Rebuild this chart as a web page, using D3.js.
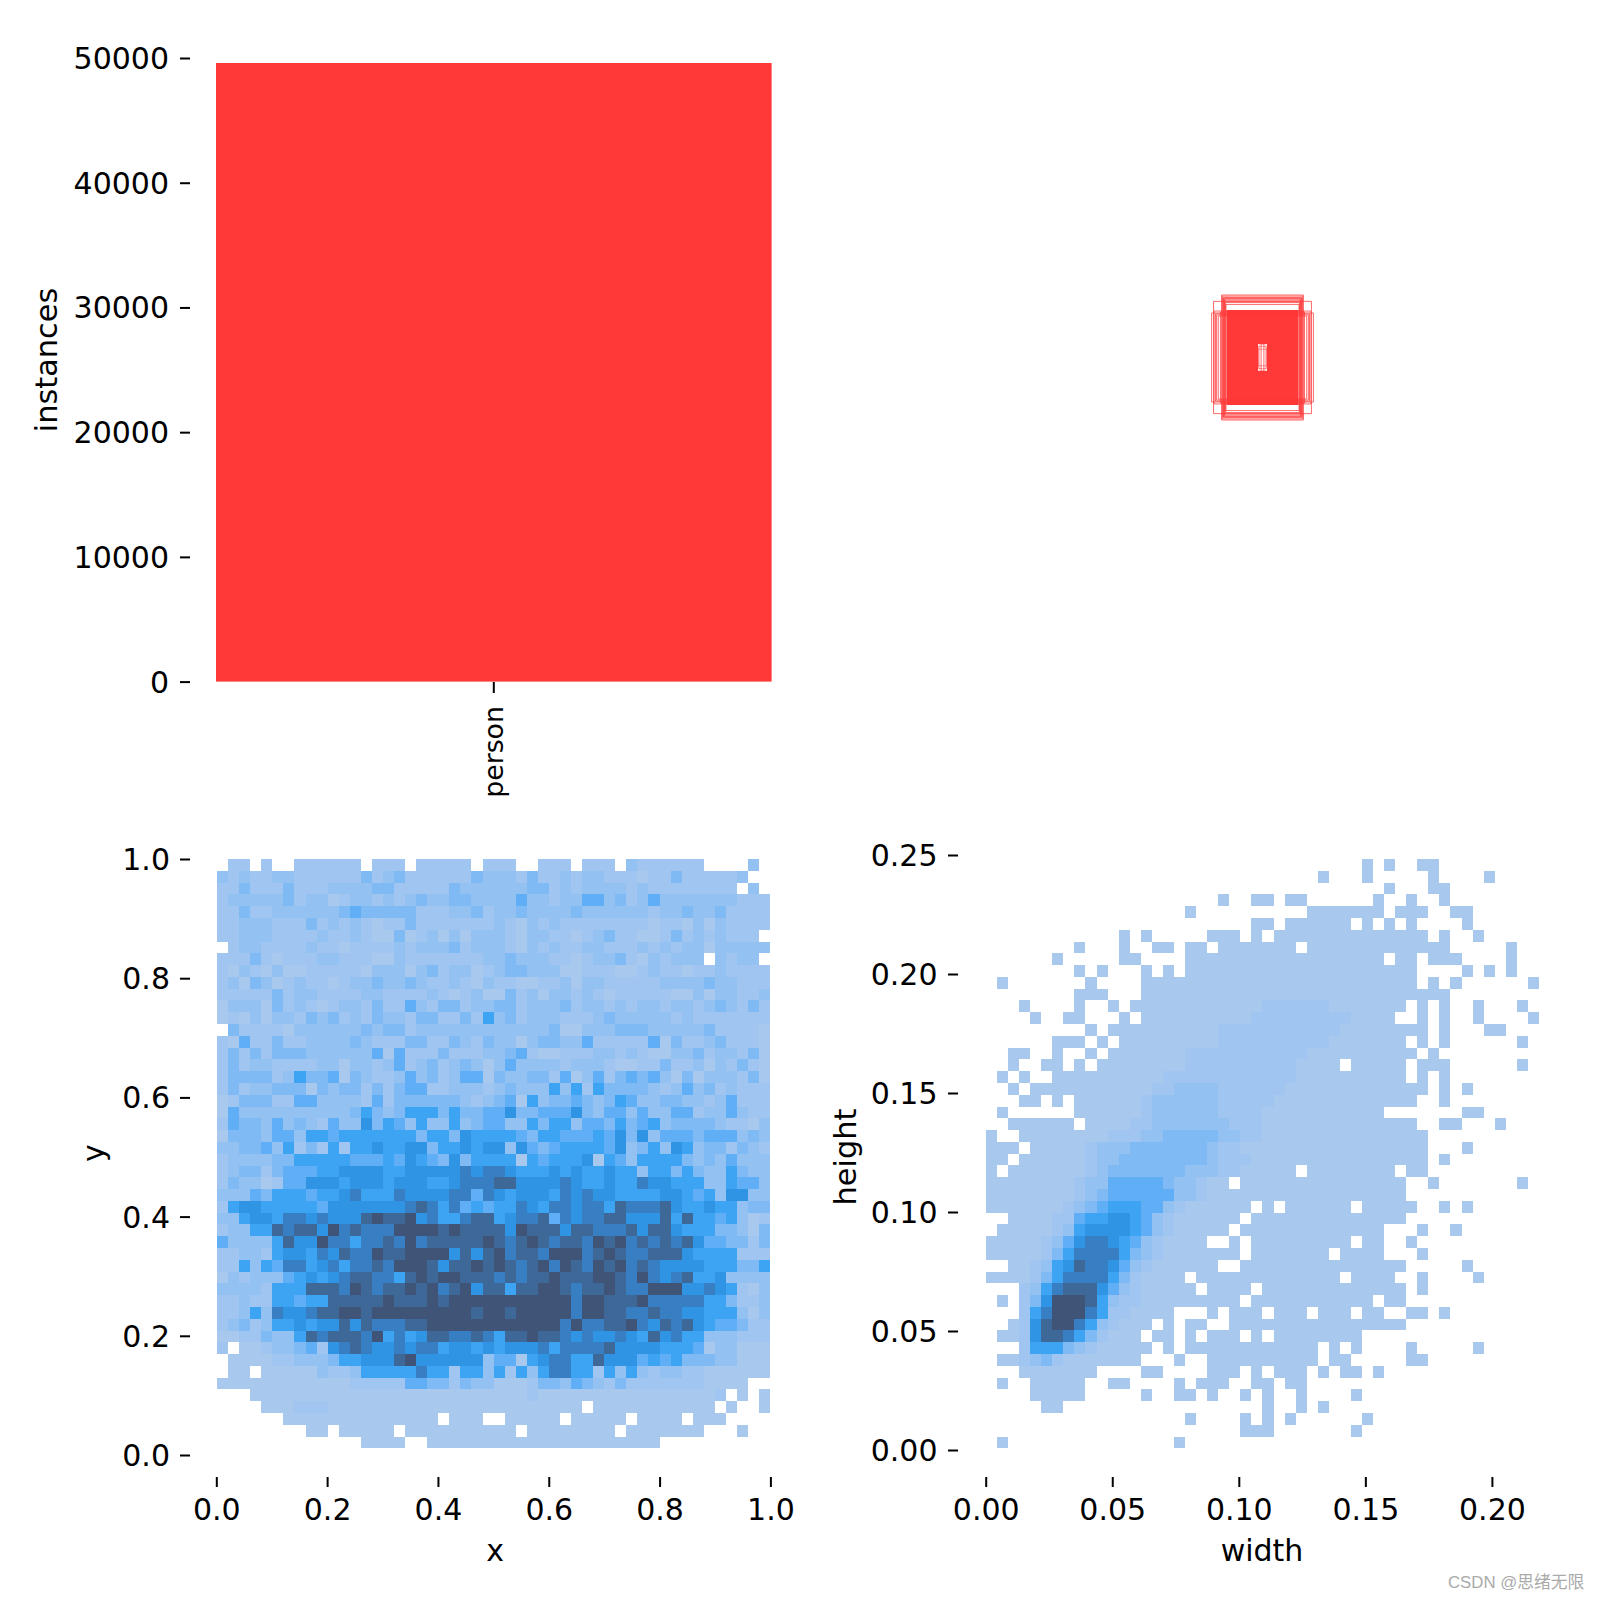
<!DOCTYPE html>
<html><head><meta charset="utf-8">
<script src="https://cdn.jsdelivr.net/npm/d3@7/dist/d3.min.js"></script>
<style>
html,body{margin:0;padding:0;background:#fff}
svg{display:block}
text{font-family:"DejaVu Sans",sans-serif;fill:#000}
.tick line{stroke:#000;stroke-width:2}
</style></head><body>
<svg id="c" width="1600" height="1600"></svg>
<script>
// ---- data ----
const classNames = ["person"];
const classCounts = [49600];
const countTicks = [0,10000,20000,30000,40000,50000];
const xyTicks = [0,0.2,0.4,0.6,0.8,1.0];
const xyTickLabels = ["0.0","0.2","0.4","0.6","0.8","1.0"];
const wTicks = [0,0.05,0.10,0.15,0.20];
const hTicks = [0,0.05,0.10,0.15,0.20,0.25];
const wLabels = ["0.00","0.05","0.10","0.15","0.20"];
const hLabels = ["0.00","0.05","0.10","0.15","0.20","0.25"];
const xyBinRange = {x:[0.0013,0.9995], y:[0.011,1.0]};
const whBinRange = {x:[0.0001,0.2186], y:[0.0007,0.2483]};
// box outlines, width / height normalised to the image
const boxW = [.184,.177,.166,.148,.141,.137,.136,.134,.132,.175,.170,.145,.139,.143,.152,.160];
const boxH = [.161,.203,.154,.226,.217,.212,.204,.199,.192,.168,.158,.222,.208,.214,.165,.150];
const boxSolid = {outer:[.130,.172], hole:[.016,.049]};
const holeW = [.004,.009,.014,.016];
const holeH = [.049,.049,.040,.030];
// x-y histogram: level per bin, top row first ('.' is an empty bin, 'a' the highest level)
const xyRows = [
".22.2 ..222 222.2 22.22 222.2 22..2 22.22 2.322 2222. ...3.",
"32322 33222 22242 34222 22243 33242 23233 22212 24222 223..",
"22422 24222 33334 42222 24333 33344 23233 33232 22222 22.3.",
"23333 34233 12332 32343 34433 33533 23355 34235 33333 33222",
"22422 33333 34544 44422 23342 33433 33433 33332 33433 42222",
"22333 22242 32321 22422 22222 32132 32222 22221 22131 32222",
"22333 22223 22321 14123 13133 32133 22123 42211 24232 3222.",
".2332 22232 21222 23233 34233 32132 32233 22232 32331 33333",
"22242 12223 32221 13222 22223 34333 22123 34213 2333. 3233.",
"21321 31122 22213 33134 23312 34433 31122 21123 22122 32222",
"23143 12322 12334 33432 23213 22112 23133 22222 33334 33222",
"22222 42332 22233 22223 21231 14231 33232 12222 21131 33223",
"13331 42321 23324 22532 44233 44233 34233 23233 23323 43242",
"12131 33243 42324 33244 22426 34233 32223 43333 32322 22222",
".4222 21333 33343 44233 33333 33333 41133 34443 33334 22221",
"21522 42233 33432 22442 24324 33134 43352 22225 14223 42221",
"24242 44433 33335 15222 42223 34521 12223 32321 13342 33241",
"24233 22223 31332 35234 23431 35333 32333 21122 42231 32421",
"24444 23644 51432 23534 23551 43344 25135 24545 31413 33241",
"24233 44414 34424 24552 23332 34333 63626 44443 23534 23222",
"12444 22553 33325 24444 44323 45163 44543 46533 44332 35222",
"15333 33333 33464 34666 46445 57445 55743 55353 35523 35322",
"25443 53432 53374 65363 36345 53364 66355 46456 34444 32213",
"14443 55366 56666 66646 64766 66546 65556 57473 55545 55343",
"33445 36242 62667 66774 66767 73754 56666 57346 37634 42432",
"23333 44666 66555 65765 47466 66165 66671 65366 66434 35333",
"23442 45556 67777 66777 77878 87666 76766 76636 64643 36433",
"24331 25577 76777 67776 67888 99777 78766 76687 76663 36553",
"33354 66656 67866 68777 78858 76777 68787 76666 77656 37733",
"26776 66665 77777 77898 68565 66876 88788 69888 97667 66344",
"33677 68878 7779a 99a78 66899 67889 58788 99777 96966 56312",
"23366 98997 a8988 8aaaa 9a999 97a99 97998 88979 97666 44314",
"53333 6977a 88688 98a89 9999a 989a9 8998a 9a898 98975 54424",
"22332 67768 79 88a 99aaa a7979 a8998 aaa89 a9889 99766 66222",
"22636 58867 86889 8aaa9 799a9 a989a 8a98a 9a898 77776 66446",
"13233 35676 78998 869a9 aa999 89899 a999a a98a8 78966 73333",
"33332 66699 98a98 99a9a 89a79 9699a a9899 a988a aa778 76213",
"22322 66566 99999 a999a 9aaaa aaaaa aa8aa 999a8 88886 64223",
"22363 87789 9aa9a aaaaa aaa9a a9aaa aa8aa 99889 88776 66313",
"23423 66767 79798 8899a aaaaa aaaaa a8a88 99a87 98976 55422",
"11224 33698 99 98a 68679 98898 699a9 98787 78769 78663 33222",
"2.112 33452 78987 78788 67767 67778 68888 97777 66651 33111",
".1111 22333 46677 79a77 77773 55167 88669 77756 56444 33111",
".11.1 11113 22366 66686 62663 62636 88662 63632 33221 11111",
"11111 11111 11222 22554 42433 11124 43543 24222 22221 111..",
"...11 11111 11111 11111 11111 11121 11111 11111 11111 2.1.1",
"....1 11222 11111 11111 11111 11111 111.1 11111 11111 .1..1",
"..... .1111 11111 11111 .111. .1111 1.111 11.11 11.11 1....",
"..... ...11 .1111 1.111 11111 11.11 11111 1.111 1111. ..1..",
"..... ..... ...11 11..1 11111 11111 11111 11111 ..... ....."
].map(s=>s.replace(/ /g,""));
// width-height histogram occupancy, top row first
const whRows = [
".......... .......... .......... ....1.1..1 1.........",
".......... .......... .......... 1...1..... 1....1....",
".......... .......... .......... ......1... 11........",
".......... .......... .1..11.11. .....1..1. .1........",
".......... ........1. .........1 111111.111 ..11......",
".......... .......... ....11.111 111.1.1.1. ...1......",
".......... ..1.1..... 111.1.1111 1111111111 .1..1.....",
"........1. ..1..11.11 .1111111.1 1111111111 11.....1..",
"......1... ..11....11 1111111111 111111.11. 111....1..",
"........1. 1...1.1.11 1111111111 111111111. ...1.1.1..",
".1.......1 ....111111 1111111111 111111111. 1.1......1",
"........11 1...111111 1111111111 1111111111 11........",
"...1....1. .1.1111111 1111111111 11111111.1 .1..1...1.",
"....1..11. ..1.111111 1111111111 1111111..1 .1..1....1",
".........1 .111111111 1111111111 1111111111 .1...11...",
"......111. 1.11111111 1111111111 11111111.1 .1......1.",
"..11..1..1 .111111111 1111111111 111111111. 1.........",
"..1..11.1. 1111111111 1111111111 11.11111.1 11......1.",
".1.1..1111 1111111111 1111111111 11111111.1 .1........",
"..1.111111 1111111111 1111111111 1111111111 .1.1......",
"...11.1.11 1111111111 1111111111 111111111. .1........",
".1......11 1111111111 1111111111 111111.... ...11.....",
"..111111.1 1111111111 1111111111 111111111. .11...1...",
"1..1111111 1111111111 1111111111 1111111111 ..........",
"111.111111 1111111111 1111111111 1111111111 ...1......",
"11.1111111 1111111111 1111111111 1111111111 .1........",
"1.11111111 1111111111 11111111.1 1111111.11 ..........",
"1111111111 1111111111 11.1111111 11111111.. 1.......1.",
"1111111111 1111111111 1111111111 11111111.. ..........",
"1111111111 1111111111 1111.1.111 111.11111. .1.1......",
"..11111111 1111111111 111.111111 11111111.. ..........",
".111111111 1111111111 11.1111111 111111...1 ..1.......",
"1111111111 1111111111 ..1.111111 111.11..1. ..........",
"1111111111 1111111111 111.111111 1.1111...1 ..........",
"..11111111 1111111111 1..1111111 11111111.. ...1......",
"1111111111 11111111.1 1111111111 11.1111..1 ....1.....",
"...1111111 111111111. 1111.11111 11111111.1 ..........",
".1.1111111 1111111111 111.111111 11111.11.. ..........",
"...1111111 1111111... 1.111.111. 111.11..11 .1........",
"..11111111 11111.1.11 ..11111111 11111111.. ..........",
".111111111 1111.11.1. 111.1.1111 1111...... ..........",
"...1111111 11111.1.11 1111111111 .1.1....1. ....1.....",
".111111111 1111...1.. 1111111111 .11.....11 ..........",
"...1111111 ....11.... 111.1.111. 1.11.1.... ..........",
".1..11111. .11....1.1 11..11.11. .......... ..........",
"....11111. ....1..11. 1..1.1..1. ...1...... ..........",
".....11... .......... .....1..1. 1......... ..........",
".......... ........1. ...1.1.1.. ....1..... ..........",
".......... .......... ...111.... ...1...... ..........",
".1........ .......1.. .......... .......... .........."
].map(s=>s.replace(/ /g,""));
// density levels over the occupied bins: [row, first column, levels]
const whDense = [
[12,25,"222222"],[13,24,"222222222"],[14,21,"22222222222"],[15,21,"2222222222"],
[16,18,"22222222222"],[17,18,"2222222222"],[18,16,"222222222222"],
[19,15,"223333222222"],[20,14,"233333322222"],[21,14,"23333332222"],
[22,13,"223333333222"],[23,11,"22233444443322"],
[24,9,"23334444444322"],[25,9,"233444444443222"],[26,9,"23444444433322"],
[27,8,"233555554332"],[28,8,"234555555332"],[29,7,"23456665532"],
[30,6,"22566776532"],[31,6,"23677776532"],[32,5,"23578876532"],
[33,5,"24688886432"],[34,4,"23679887532"],[35,4,"2468888642"],
[36,3,"23689997532"],[37,3,"247aaa96322"],[38,3,"268aaa8622"],
[39,3,"279aa8632"],[40,3,"27998642"],[41,3,"2666432"],[42,3,"2342"]
];
const levelColors = ["#a9c8ee","#a0c5f0","#93c1f2","#80baf4","#60aff6","#3ca4f3","#3094e4","#387ec2","#3e6898","#3f5476"];
const barColor = "#ff3838";
const watermark = "CSDN @思绪无限";

// ---- drawing ----
const svg = d3.select("#c");
const FS = 30;
function styleAxis(g, size){
  g.select(".domain").remove();
  g.selectAll("text").style("font-size",(size||FS)+"px").attr("fill","#000");
}
const nudgeY = g=>g.selectAll("text").attr("dy",".35em");
function label(txt,x,y,rot,size){
  const t = svg.append("text").text(txt).attr("text-anchor","middle").style("font-size",(size||FS)+"px")
    .attr("dominant-baseline","middle");
  t.attr("transform",`translate(${x},${y})`+(rot?` rotate(${rot})`:""));
}
const lookup = (vals,labs)=>v=>labs[vals.findIndex(d=>Math.abs(d-v)<1e-9)];

// bar panel
const barX = d3.scaleBand().domain(classNames).range([216,771.6]);
const countY = d3.scaleLinear().domain([0,50000]).range([681.6,58]);
svg.selectAll(".bar").data(classNames).join("rect").attr("class","bar")
  .attr("x",d=>barX(d)).attr("width",barX.bandwidth())
  .attr("y",(d,i)=>countY(classCounts[i])).attr("height",(d,i)=>countY(0)-countY(classCounts[i]))
  .attr("fill",barColor);
svg.append("g").attr("transform","translate(190,0)")
  .call(d3.axisLeft(countY).tickValues(countTicks).tickFormat(d3.format("d")).tickSize(10).tickPadding(11))
  .call(styleAxis).call(nudgeY);
const px = svg.append("g").attr("transform","translate(0,682)")
  .call(d3.axisBottom(barX).tickSize(11).tickPadding(11)).call(g=>styleAxis(g,26.8));
px.selectAll("text").attr("transform","rotate(-90)").attr("y",0).attr("x",-24).attr("dy",".35em").attr("text-anchor","end");
label("instances",48.5,360,-90,30.4);

// box panel
const cx = 1262.5, cy = 357.5;
const boxS = d3.scaleLinear().domain([0,1]).range([0,553]);
const rectPath = (w,h)=>{const a=boxS(w)/2,b=boxS(h)/2;return `M${cx-a},${cy-b}H${cx+a}V${cy+b}H${cx-a}Z`;};
svg.append("path").attr("d",rectPath(...boxSolid.outer)+rectPath(...boxSolid.hole))
  .attr("fill",barColor).attr("fill-rule","evenodd");
const outline = (ws,hs,op)=>svg.append("g").selectAll("path").data(ws).join("path")
  .attr("d",(w,i)=>rectPath(w,hs[i])).attr("fill","none").attr("stroke",barColor)
  .attr("stroke-width",1).attr("stroke-opacity",op);
outline(boxW,boxH,0.75);
outline(holeW,holeH,0.5);

// histograms
function hist(rows,range,xS,yS,g){
  const bx = d3.scaleLinear().domain([0,rows[0].length]).range(range.x);
  const by = d3.scaleLinear().domain([0,rows.length]).range([range.y[1],range.y[0]]);
  const cells=[];
  rows.forEach((r,i)=>[...r].forEach((ch,j)=>{ if(ch!==".") cells.push({i,j,v:ch==="a"?10:+ch}); }));
  g.selectAll("rect").data(cells).join("rect")
   .attr("x",d=>xS(bx(d.j))).attr("width",d=>xS(bx(d.j+1))-xS(bx(d.j)))
   .attr("y",d=>yS(by(d.i))).attr("height",d=>yS(by(d.i+1))-yS(by(d.i)))
   .attr("fill",d=>levelColors[d.v-1]).attr("shape-rendering","crispEdges");
}
// x-y
const xS = d3.scaleLinear().domain([0,1]).range([216.3,770.4]);
const yS = d3.scaleLinear().domain([0,1]).range([1455,859]);
hist(xyRows,xyBinRange,xS,yS,svg.append("g"));
svg.append("g").attr("transform","translate(190,0)")
  .call(d3.axisLeft(yS).tickValues(xyTicks).tickFormat(lookup(xyTicks,xyTickLabels)).tickSize(10).tickPadding(10)).call(styleAxis).call(nudgeY);
svg.append("g").attr("transform","translate(0,1477)")
  .call(d3.axisBottom(xS).tickValues(xyTicks).tickFormat(lookup(xyTicks,xyTickLabels)).tickSize(10).tickPadding(12)).call(styleAxis);
label("x",495,1552);
label("y",95,1153,-90);

// width-height
const merged = whRows.map(r=>[...r]);
whDense.forEach(([row,col,lv])=>{[...lv].forEach((ch,k)=>{ if(merged[row][col+k]!==".") merged[row][col+k]=ch; });});
const wS = d3.scaleLinear().domain([0,0.2]).range([985.7,1491.9]);
const hS = d3.scaleLinear().domain([0,0.25]).range([1450,855]);
hist(merged.map(r=>r.join("")),whBinRange,wS,hS,svg.append("g"));
svg.append("g").attr("transform","translate(958,0)")
  .call(d3.axisLeft(hS).tickValues(hTicks).tickFormat(lookup(hTicks,hLabels)).tickSize(10).tickPadding(10.5)).call(styleAxis).call(nudgeY);
svg.append("g").attr("transform","translate(0,1477)")
  .call(d3.axisBottom(wS).tickValues(wTicks).tickFormat(lookup(wTicks,wLabels)).tickSize(10).tickPadding(12)).call(styleAxis);
label("width",1262,1552);
label("height",847,1157,-90,30.4);

// watermark
svg.append("text").text(watermark).attr("x",1448).attr("y",1588)
  .style("font-family",'"Liberation Sans","Noto Sans CJK SC",sans-serif').style("font-size","16.8px").style("fill","#aaaaaa");
</script>
</body></html>
